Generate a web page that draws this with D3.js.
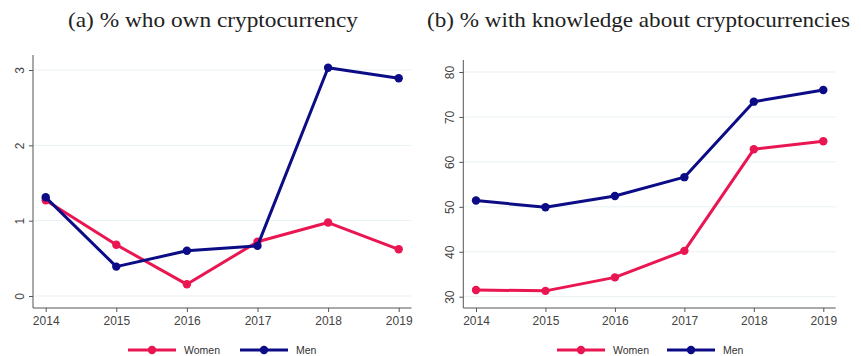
<!DOCTYPE html>
<html>
<head>
<meta charset="utf-8">
<script src="https://cdn.jsdelivr.net/npm/d3@7"></script>
<style>
  html, body { margin: 0; padding: 0; background: #fff; }
  svg { display: block; }
</style>
</head>
<body>
<svg id="chart" width="861" height="356"></svg>
<script>
// Survey years
const years = [2014, 2015, 2016, 2017, 2018, 2019];

// Panel (a): % who own cryptocurrency
const ownWomen = [1.27, 0.68, 0.155, 0.72, 0.975, 0.62];
const ownMen   = [1.31, 0.39, 0.60, 0.665, 3.03, 2.89];
const ownTicks = [0, 1, 2, 3];

// Panel (b): % with knowledge about cryptocurrencies
const knowWomen = [31.5, 31.3, 34.3, 40.2, 62.8, 64.6];
const knowMen   = [51.4, 49.9, 52.4, 56.6, 73.4, 76.0];
const knowTicks = [30, 40, 50, 60, 70, 80];

const seriesNames = ["Women", "Men"];
const colors = { Women: "#ea1651", Men: "#0b0c86" };

const svg = d3.select("#chart");

function panel(cfg) {
  const g = svg.append("g");
  const x = d3.scaleLinear().domain([2014, 2019]).range(cfg.xRange);
  const y = d3.scaleLinear().domain(cfg.yDomain).range(cfg.yRange);

  // title
  g.append("text")
    .attr("x", cfg.titleX).attr("y", 27)
    .attr("text-anchor", "middle")
    .attr("textLength", cfg.titleWidth)
    .attr("lengthAdjust", "spacingAndGlyphs")
    .style("font-family", "'Liberation Serif', 'DejaVu Serif', serif")
    .style("font-size", "21.5px")
    .style("fill", "#222")
    .text(cfg.title);

  // horizontal gridlines
  g.selectAll("line.grid").data(cfg.ticks).join("line")
    .attr("class", "grid")
    .attr("x1", cfg.axisX + 1).attr("x2", cfg.plotRight)
    .attr("y1", d => y(d)).attr("y2", d => y(d))
    .attr("stroke", "#e9f1f3").attr("stroke-width", 1);

  // y axis
  const yAxis = d3.axisLeft(y).tickValues(cfg.ticks).tickSize(4).tickPadding(5).tickFormat(d3.format("d"));
  const yg = g.append("g").attr("transform", `translate(${cfg.axisX},0)`).call(yAxis);
  yg.select(".domain").remove();
  yg.selectAll(".tick line").attr("stroke", "#555");
  yg.selectAll(".tick text")
    .attr("transform", "rotate(-90)")
    .attr("x", 0).attr("dy", 0)
    .attr("y", -9)
    .attr("text-anchor", "middle")
    .style("font-family", "'Liberation Sans', Arial, sans-serif")
    .style("font-size", "12px")
    .style("fill", "#444");
  g.append("line")
    .attr("x1", cfg.axisX).attr("x2", cfg.axisX)
    .attr("y1", cfg.axisTop).attr("y2", cfg.axisBottom)
    .attr("stroke", "#555").attr("stroke-width", 1);

  // x axis
  const xAxis = d3.axisBottom(x).tickValues(years).tickSize(4).tickPadding(4).tickFormat(d3.format("d"));
  const xg = g.append("g").attr("transform", `translate(0,${cfg.axisBottom})`).call(xAxis);
  xg.select(".domain").remove();
  xg.selectAll(".tick line").attr("stroke", "#555");
  xg.selectAll(".tick text")
    .style("font-family", "'Liberation Sans', Arial, sans-serif")
    .style("font-size", "12px")
    .style("fill", "#444");
  g.append("line")
    .attr("x1", cfg.axisX).attr("x2", cfg.plotRight)
    .attr("y1", cfg.axisBottom).attr("y2", cfg.axisBottom)
    .attr("stroke", "#555").attr("stroke-width", 1);

  // series lines and markers (Women drawn first, Men on top)
  const line = d3.line().x((d, i) => x(years[i])).y(d => y(d));
  seriesNames.forEach(name => {
    const vals = cfg.data[name];
    g.append("path")
      .datum(vals)
      .attr("d", line)
      .attr("fill", "none")
      .attr("stroke", colors[name])
      .attr("stroke-width", 3)
      .attr("stroke-linejoin", "round");
    g.selectAll(null).data(vals).join("circle")
      .attr("cx", (d, i) => x(years[i]))
      .attr("cy", d => y(d))
      .attr("r", 4.2)
      .attr("fill", colors[name]);
  });

  // legend
  const lg = g.append("g");
  cfg.legend.forEach((lx, i) => {
    const name = seriesNames[i];
    lg.append("line")
      .attr("x1", lx).attr("x2", lx + 48)
      .attr("y1", 350).attr("y2", 350)
      .attr("stroke", colors[name]).attr("stroke-width", 3);
    lg.append("circle")
      .attr("cx", lx + 24).attr("cy", 350).attr("r", 4.2)
      .attr("fill", colors[name]);
    lg.append("text")
      .attr("x", lx + 56).attr("y", 354)
      .style("font-family", "'Liberation Sans', Arial, sans-serif")
      .style("font-size", "10.5px")
      .style("fill", "#333")
      .text(name);
  });
}

panel({
  title: "(a) % who own cryptocurrency",
  titleX: 213,
  titleWidth: 290,
  xRange: [45.7, 398.7],
  yDomain: [0, 3],
  yRange: [296, 70],
  ticks: ownTicks,
  axisX: 33,
  axisTop: 55,
  axisBottom: 308,
  plotRight: 411.5,
  data: { Women: ownWomen, Men: ownMen },
  legend: [128, 240]
});

panel({
  title: "(b) % with knowledge about cryptocurrencies",
  titleX: 638.5,
  titleWidth: 423,
  xRange: [476, 823.3],
  yDomain: [30, 80],
  yRange: [296.7, 72],
  ticks: knowTicks,
  axisX: 463.3,
  axisTop: 60,
  axisBottom: 308,
  plotRight: 835.7,
  data: { Women: knowWomen, Men: knowMen },
  legend: [557, 667]
});
</script>
</body>
</html>
